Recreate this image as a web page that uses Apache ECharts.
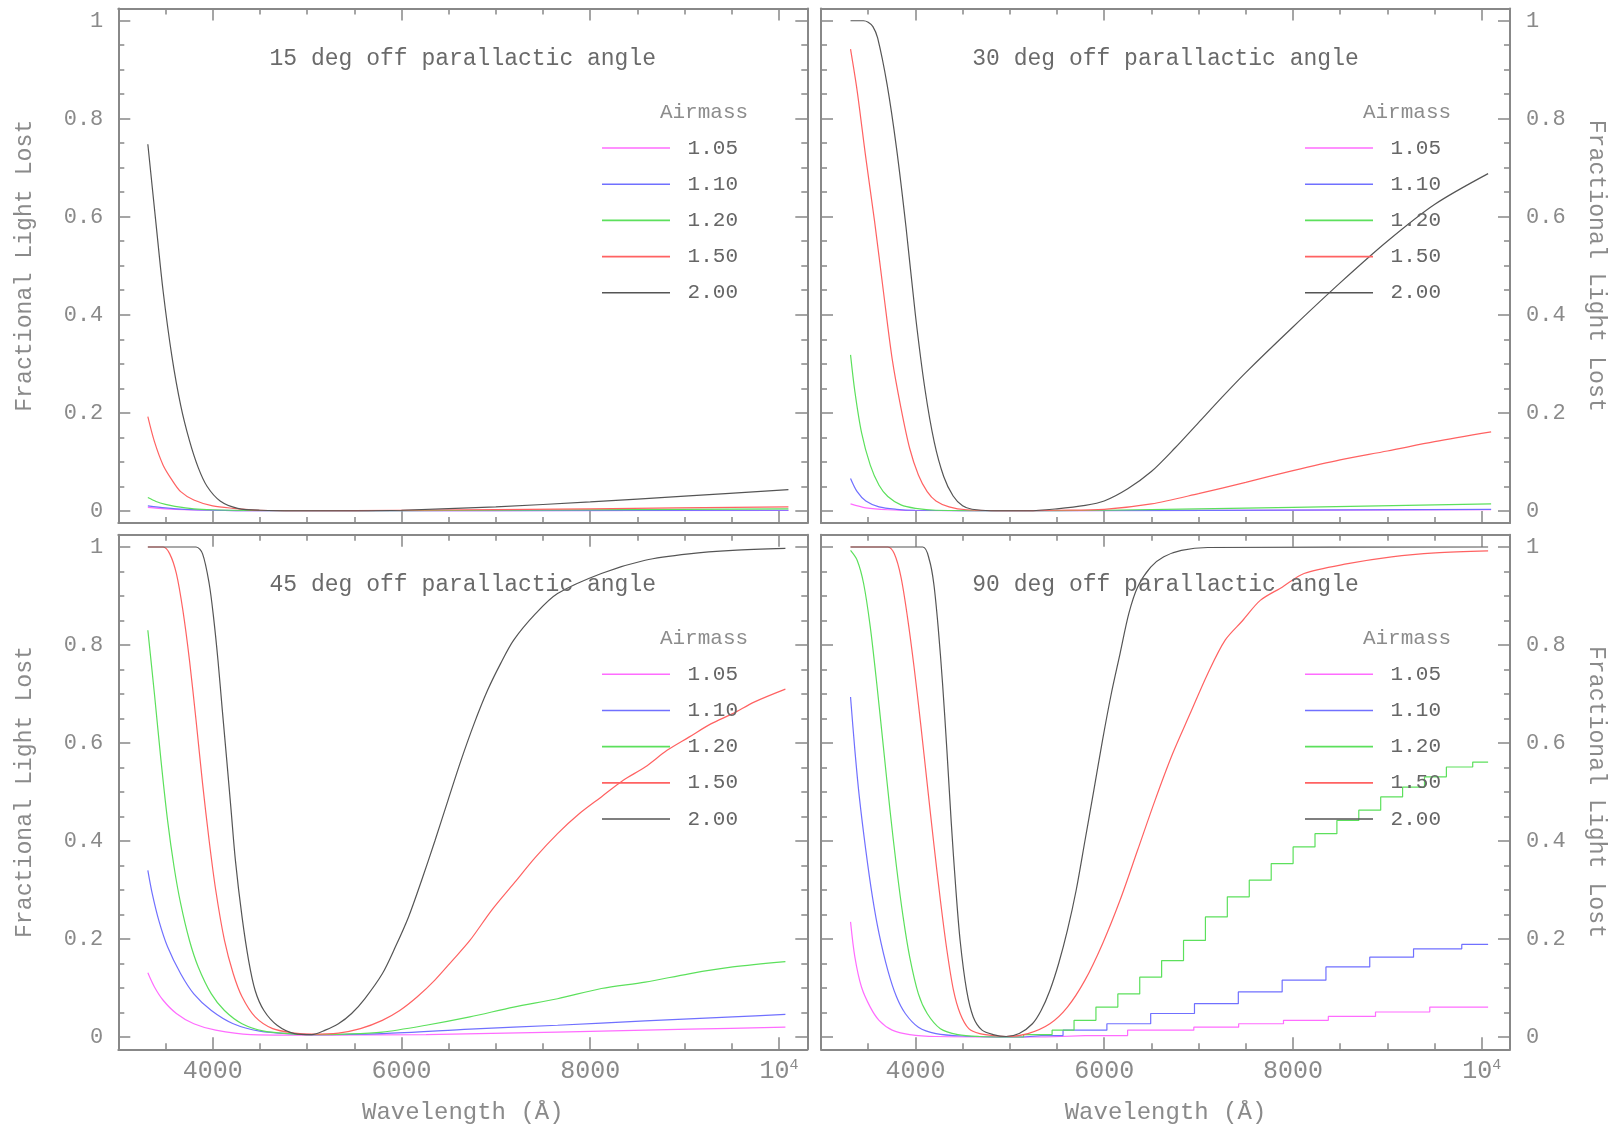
<!DOCTYPE html>
<html><head><meta charset="utf-8">
<script src="https://cdn.jsdelivr.net/npm/echarts/dist/echarts.min.js"></script>
<style>html,body{margin:0;padding:0;background:#fff}#c{width:1621px;height:1127px}</style>
</head><body><div id="c"></div><script>
// ---------- data (wavelength in Angstrom, fractional light lost) ----------
const airmass = ['1.05', '1.10', '1.20', '1.50', '2.00'];
const panelTitles = ['15 deg off parallactic angle', '30 deg off parallactic angle',
                     '45 deg off parallactic angle', '90 deg off parallactic angle'];
const xMajorTicks = [4000, 6000, 8000, 10000];
const xMinorTicks = [3500, 4500, 5000, 5500, 6500, 7000, 7500, 8500, 9000, 9500];
const yMajorTicks = [0, 0.2, 0.4, 0.6, 0.8, 1];
const yMinorTicks = [0.05, 0.1, 0.15, 0.25, 0.3, 0.35, 0.45, 0.5, 0.55, 0.65, 0.7, 0.75, 0.85, 0.9, 0.95];

// 15 deg
const d15_105 = [[3313,0.007],[3500,0.004],[3700,0.002],[4000,0.001],[4500,0],[10100,0.0005]];
const d15_110 = [[3313,0.01],[3500,0.006],[3700,0.003],[4000,0.001],[4500,0],[10100,0.001]];
const d15_120 = [[3313,0.027],[3400,0.019],[3500,0.013],[3600,0.009],[3800,0.004],[4000,0.002],[4400,0.0005],[5000,0],[7000,0.001],[10100,0.004]];
const d15_150 = [[3313,0.192],[3383,0.141],[3475,0.093],[3568,0.063],[3661,0.039],[3800,0.022],[4000,0.010],[4218,0.005],[4497,0.001],[5000,0],[6000,0.001],[8000,0.004],[10100,0.008]];
const d15_200 = [[3313,0.748],[3400,0.585],[3475,0.448],[3568,0.315],[3661,0.215],[3754,0.143],[3847,0.088],[3940,0.050],[4079,0.020],[4265,0.005],[4500,0.001],[5000,0],[5500,0],[6000,0.001],[7000,0.008],[8000,0.018],[9000,0.03],[10100,0.043]];
// 30 deg
const d30_105 = [[3313,0.014],[3475,0.006],[3708,0.002],[4000,0.0005],[5000,0],[10100,0.002]];
const d30_110 = [[3313,0.066],[3383,0.039],[3475,0.02],[3615,0.008],[3800,0.003],[4000,0.001],[5000,0],[10100,0.003]];
const d30_120 = [[3313,0.318],[3359,0.243],[3429,0.16],[3522,0.093],[3615,0.052],[3708,0.029],[3847,0.012],[4000,0.005],[4218,0.001],[5000,0],[6000,0.001],[8000,0.007],[10100,0.014]];
const d30_150 = [[3313,0.942],[3383,0.857],[3475,0.72],[3568,0.59],[3661,0.448],[3754,0.31],[3847,0.21],[3940,0.127],[4032,0.073],[4125,0.039],[4218,0.02],[4357,0.008],[4543,0.002],[5000,0],[5500,0.001],[6000,0.003],[6500,0.014],[7000,0.035],[7500,0.058],[8000,0.082],[8500,0.104],[9000,0.122],[9500,0.141],[10100,0.161]];
const d30_200 = [[3313,1.0],[3450,1.0],[3500,0.997],[3550,0.988],[3600,0.965],[3700,0.87],[3800,0.74],[3900,0.58],[4000,0.40],[4100,0.25],[4200,0.14],[4300,0.07],[4400,0.03],[4500,0.01],[4600,0.003],[4800,0],[5200,0],[5500,0.004],[5800,0.011],[6000,0.02],[6250,0.045],[6500,0.08],[6750,0.128],[7000,0.18],[7250,0.232],[7500,0.282],[8000,0.375],[8500,0.465],[9000,0.55],[9500,0.625],[10068,0.688]];
// 45 deg
const d45_105 = [[3313,0.131],[3383,0.102],[3475,0.075],[3615,0.048],[3800,0.027],[4032,0.014],[4404,0.005],[4868,0.004],[5050,0.004],[6261,0.005],[7654,0.01],[9046,0.016],[10068,0.02]];
const d45_110 = [[3313,0.34],[3359,0.293],[3429,0.238],[3522,0.184],[3661,0.129],[3800,0.088],[3986,0.054],[4218,0.027],[4497,0.012],[4868,0.006],[5050,0.005],[5797,0.007],[6725,0.016],[7654,0.024],[8582,0.033],[9510,0.041],[10068,0.046]];
const d45_120 = [[3313,0.83],[3383,0.70],[3452,0.565],[3522,0.442],[3591,0.347],[3661,0.272],[3754,0.197],[3847,0.143],[3986,0.088],[4125,0.054],[4311,0.027],[4543,0.012],[4868,0.006],[5050,0.005],[5400,0.006],[5797,0.01],[6261,0.024],[6725,0.041],[7189,0.061],[7654,0.078],[8118,0.099],[8582,0.112],[9046,0.129],[9510,0.143],[10068,0.154]];
const d45_150 = [[3313,1.0],[3475,1.0],[3545,0.986],[3615,0.946],[3684,0.871],[3754,0.769],[3824,0.646],[3893,0.517],[3963,0.40],[4032,0.30],[4125,0.197],[4218,0.129],[4311,0.082],[4450,0.041],[4636,0.017],[4868,0.008],[5050,0.006],[5332,0.008],[5565,0.017],[5797,0.034],[5982,0.054],[6168,0.082],[6354,0.116],[6539,0.156],[6725,0.197],[6957,0.259],[7189,0.313],[7421,0.367],[7654,0.415],[7886,0.456],[8118,0.49],[8350,0.524],[8582,0.551],[8814,0.585],[9046,0.612],[9278,0.639],[9510,0.66],[9742,0.684],[10068,0.71]];
const d45_200 = [[3313,1.0],[3824,1.0],[3893,0.986],[3963,0.925],[4009,0.857],[4056,0.769],[4102,0.667],[4149,0.565],[4195,0.463],[4241,0.36],[4311,0.245],[4381,0.156],[4450,0.095],[4543,0.054],[4682,0.024],[4868,0.007],[5050,0.005],[5193,0.014],[5332,0.027],[5472,0.048],[5611,0.078],[5797,0.129],[5936,0.184],[6075,0.245],[6214,0.32],[6354,0.40],[6493,0.483],[6632,0.565],[6771,0.64],[6911,0.707],[7050,0.762],[7189,0.81],[7421,0.864],[7654,0.905],[8118,0.946],[8582,0.973],[9046,0.986],[9510,0.993],[10068,0.997]];
// 90 deg (the three lowest airmass curves: falling part + stair-stepped rising part)
const d90_105 = [[3313,0.235],[3359,0.163],[3429,0.102],[3522,0.061],[3615,0.034],[3754,0.014],[3940,0.005],[4218,0.001],[4961,0.0]];
const d90_105_rise = [[4961,0.0],[5797,0.003],[6700,0.014],[7200,0.02],[7650,0.027],[8150,0.034],[8600,0.042],[9150,0.051],[9750,0.061],[10068,0.061]];
const d90_110 = [[3313,0.694],[3359,0.585],[3406,0.49],[3475,0.381],[3545,0.286],[3615,0.211],[3708,0.136],[3800,0.082],[3893,0.048],[4032,0.02],[4218,0.007],[4497,0.002],[4961,0.0]];
const d90_110_rise = [[4961,0.0],[5332,0.003],[5797,0.014],[6261,0.027],[6725,0.048],[7189,0.068],[7654,0.092],[8118,0.116],[8582,0.143],[9046,0.163],[9510,0.18],[10068,0.189]];
const d90_120 = [[3313,0.993],[3383,0.973],[3452,0.925],[3522,0.837],[3591,0.721],[3661,0.592],[3731,0.463],[3800,0.347],[3870,0.245],[3940,0.163],[4032,0.088],[4125,0.048],[4265,0.017],[4450,0.005],[4682,0.001],[4961,0.0]];
const d90_120_rise = [[4961,0.0],[5332,0.005],[5565,0.014],[5797,0.034],[6029,0.061],[6261,0.088],[6493,0.122],[6725,0.156],[6957,0.197],[7189,0.245],[7421,0.286],[7654,0.32],[7886,0.354],[8118,0.388],[8350,0.415],[8582,0.442],[8814,0.463],[9046,0.49],[9278,0.51],[9510,0.531],[9742,0.551],[10068,0.561]];
const d90_150 = [[3313,1.0],[3708,1.0],[3777,0.986],[3847,0.939],[3916,0.857],[3986,0.755],[4056,0.639],[4125,0.517],[4195,0.395],[4265,0.279],[4334,0.177],[4404,0.095],[4474,0.048],[4566,0.017],[4682,0.007],[4868,0.002],[4961,0.001],[5193,0.007],[5425,0.027],[5611,0.061],[5797,0.116],[5982,0.19],[6168,0.279],[6354,0.381],[6539,0.483],[6725,0.578],[6911,0.66],[7096,0.741],[7282,0.81],[7468,0.85],[7654,0.891],[7886,0.918],[8118,0.946],[8582,0.966],[9046,0.98],[9510,0.988],[10068,0.992]];
const d90_200 = [[3313,1.0],[4079,1.0],[4149,0.973],[4195,0.925],[4241,0.837],[4288,0.721],[4334,0.585],[4381,0.435],[4427,0.306],[4474,0.197],[4543,0.095],[4613,0.041],[4706,0.014],[4822,0.005],[4961,0.001],[5100,0.007],[5240,0.027],[5332,0.054],[5425,0.095],[5518,0.15],[5611,0.218],[5704,0.30],[5797,0.401],[5890,0.503],[5982,0.605],[6075,0.70],[6168,0.782],[6261,0.864],[6354,0.918],[6493,0.959],[6632,0.98],[6818,0.993],[7096,0.999],[10068,1.0]];

// panel -> list of [airmass index, smooth data, stepped data or null]
const panels = [
  [[0, d15_105, null], [1, d15_110, null], [2, d15_120, null], [3, d15_150, null], [4, d15_200, null]],
  [[0, d30_105, null], [1, d30_110, null], [2, d30_120, null], [3, d30_150, null], [4, d30_200, null]],
  [[0, d45_105, null], [1, d45_110, null], [2, d45_120, null], [3, d45_150, null], [4, d45_200, null]],
  [[0, d90_105, d90_105_rise], [1, d90_110, d90_110_rise], [2, d90_120, d90_120_rise], [3, d90_150, null], [4, d90_200, null]]
];

// ---------- styling / layout ----------
const colors = ['#ff6cff', '#7070ff', '#5ce05c', '#ff6262', '#555555'];
const FONT = '"Liberation Mono", "DejaVu Sans Mono", monospace';
const AXC = '#888';
const LBC = '#8a8a8a';
const grids = [
  {left: 118.3, top: 8.5,    width: 689, height: 514.5},
  {left: 821,   top: 8.5,    width: 689, height: 514.5},
  {left: 118.3, top: 534.75, width: 689, height: 514.5},
  {left: 821,   top: 534.75, width: 689, height: 514.5}
];
const XMIN = 3000, XMAX = 10300, YMIN = -0.025, YMAX = 1.025;

const xAxes = [], yAxes = [], series = [], legends = [], titles = [];

function tickAxis(base, vals, len) {
  return Object.assign({}, base, {
    axisTick: {show: true, inside: true, length: len, customValues: vals,
               lineStyle: {color: AXC, width: 1.5}},
  });
}

grids.forEach((g, gi) => {
  const isBottom = gi >= 2, isRight = gi % 2 === 1;
  const xb = {type: 'value', gridIndex: gi, min: XMIN, max: XMAX, splitLine: {show: false},
              axisLine: {show: true, onZero: false, lineStyle: {color: AXC, width: 2}},
              axisLabel: {show: false}};
  const xMajor = tickAxis(Object.assign({}, xb, {position: 'bottom'}), xMajorTicks, 12);
  if (isBottom) {
    xMajor.axisLabel = {
      show: true, customValues: xMajorTicks, margin: 8,
      formatter: v => v === 10000 ? '{b|10}{s|4}' : '{b|' + v + '}',
      rich: {
        b: {fontFamily: FONT, fontSize: 25, color: LBC, lineHeight: 28},
        s: {fontFamily: FONT, fontSize: 15, color: LBC, verticalAlign: 'top', lineHeight: 14}
      }
    };
    xMajor.name = 'Wavelength (Å)';
    xMajor.nameLocation = 'middle';
    xMajor.nameGap = 51;
    xMajor.nameTextStyle = {fontFamily: FONT, fontSize: 24, color: LBC};
  }
  xAxes.push(xMajor);
  xAxes.push(tickAxis(Object.assign({}, xb, {position: 'bottom', axisLine: {show: false, onZero: false}}), xMinorTicks, 6));
  xAxes.push(tickAxis(Object.assign({}, xb, {position: 'top'}), xMajorTicks, 12));
  xAxes.push(tickAxis(Object.assign({}, xb, {position: 'top', axisLine: {show: false, onZero: false}}), xMinorTicks, 6));

  const yb = {type: 'value', gridIndex: gi, min: YMIN, max: YMAX, splitLine: {show: false},
              axisLine: {show: true, onZero: false, lineStyle: {color: AXC, width: 2}},
              axisLabel: {show: false}};
  const labelSide = isRight ? 'right' : 'left';
  const otherSide = isRight ? 'left' : 'right';
  const yMajor = tickAxis(Object.assign({}, yb, {position: labelSide}), yMajorTicks, 12);
  yMajor.axisLabel = {
    show: true, customValues: yMajorTicks, margin: isRight ? 16 : 15,
    formatter: v => String(+v.toFixed(2)),
    fontFamily: FONT, fontSize: 22, color: LBC
  };
  yMajor.name = 'Fractional Light Lost';
  yMajor.nameLocation = 'middle';
  yMajor.nameRotate = isRight ? -90 : 90;
  yMajor.nameGap = isRight ? 75 : 82;
  yMajor.nameTextStyle = {fontFamily: FONT, fontSize: 23.2, color: LBC};
  yAxes.push(yMajor);
  yAxes.push(tickAxis(Object.assign({}, yb, {position: labelSide, axisLine: {show: false, onZero: false}}), yMinorTicks, 6));
  yAxes.push(tickAxis(Object.assign({}, yb, {position: otherSide}), yMajorTicks, 12));
  yAxes.push(tickAxis(Object.assign({}, yb, {position: otherSide, axisLine: {show: false, onZero: false}}), yMinorTicks, 6));

  panels[gi].forEach(([si, smoothData, stepData]) => {
    const base = {
      type: 'line', name: airmass[si], xAxisIndex: gi * 4, yAxisIndex: gi * 4,
      symbol: 'none', clip: true, silent: true,
      lineStyle: {color: colors[si], width: 1.2}, itemStyle: {color: colors[si]}
    };
    series.push(Object.assign({}, base, {data: smoothData, smooth: 0.3}));
    if (stepData) series.push(Object.assign({}, base, {data: stepData, step: 'middle'}));
  });

  const cx = g.left + g.width / 2;
  titles.push({text: panelTitles[gi], left: cx, top: g.top + 50.5, textAlign: 'center',
               textVerticalAlign: 'middle', padding: 0,
               textStyle: {fontFamily: FONT, fontSize: 23, fontWeight: 'normal', color: '#6a6a6a'}});
  const legX = isRight ? 1305 : 602;
  titles.push({text: 'Airmass', left: legX + 102, top: g.top + 104, textAlign: 'center',
               textVerticalAlign: 'middle', padding: 0,
               textStyle: {fontFamily: FONT, fontSize: 21, fontWeight: 'normal', color: '#8c8c8c'}});
  legends.push({
    data: airmass, orient: 'vertical', left: legX, top: g.top + 129, padding: 0,
    icon: 'rect', itemWidth: 68, itemHeight: 1.6, itemGap: 15.2, selectedMode: false,
    formatter: n => ' ' + n,
    textStyle: {fontFamily: FONT, fontSize: 21, color: '#666', lineHeight: 21}
  });
});

const chart = echarts.init(document.getElementById('c'), null, {renderer: 'canvas'});
chart.setOption({
  animation: false,
  backgroundColor: '#fff',
  grid: grids.map(g => Object.assign({containLabel: false}, g)),
  xAxis: xAxes, yAxis: yAxes, series: series, legend: legends, title: titles
});
</script></body></html>
